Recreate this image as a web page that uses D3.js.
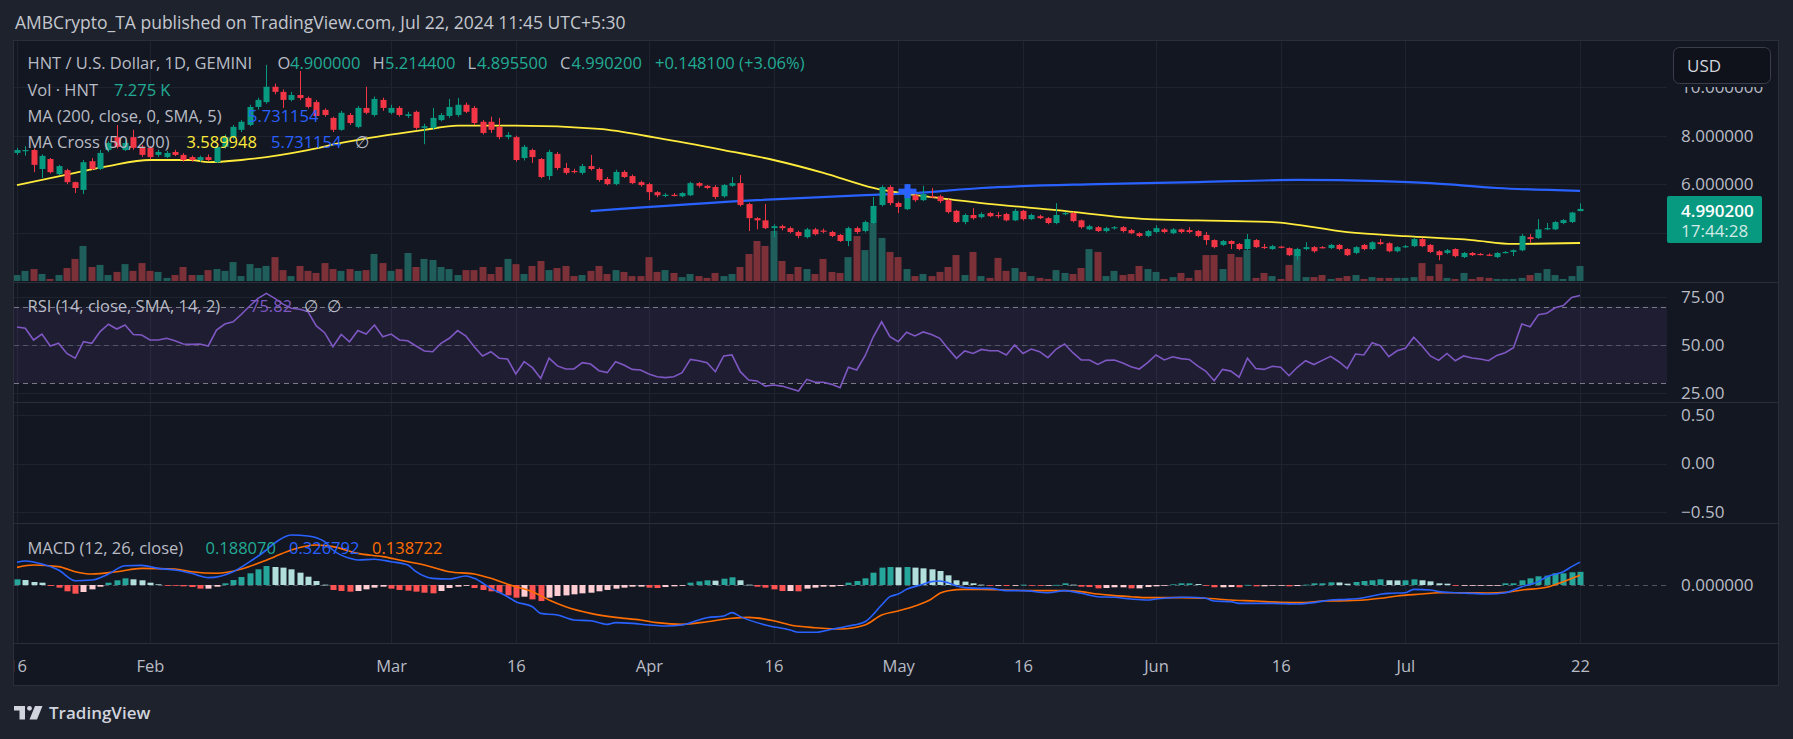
<!DOCTYPE html>
<html><head><meta charset="utf-8">
<script src="https://cdn.jsdelivr.net/npm/d3@7/dist/d3.min.js"></script>
<style>
html,body{margin:0;padding:0;background:#1e222d;overflow:hidden}
svg{display:block}
text{font-family:"Open Sans","Noto Sans","DejaVu Sans",sans-serif}
</style></head><body>
<svg id="chart" width="1793" height="739"></svg>
<script>
// ---------------- DATA (daily, first bar = 2024-01-16) ----------------
const opens = [
7.29,7.37,7.41,6.63,7.04,6.42,6.58,6.09,5.77,6.95,6.63,7.41,7.94,7.41,7.94,7.54,
7.50,7.21,7.12,7.33,7.21,7.12,7.00,7.12,6.91,7.54,7.94,8.24,8.44,9.18,9.38,10.01,9.80,9.47,9.67,9.55,9.38,9.06,8.73,8.24,8.85,8.36,9.14,8.85,9.47,
8.94,9.14,8.81,8.98,8.32,8.32,8.64,8.81,8.85,9.27,9.14,8.57,8.57,8.36,7.94,7.94,7.08,7.41,7.04,6.34,7.25,6.67,6.55,6.47,6.75,6.63,6.22,6.01,6.51,6.34,6.09,
6.01,5.68,5.55,5.57,5.51,5.55,6.05,5.94,5.89,5.51,5.94,6.05,5.19,4.61,4.52,4.20,4.28,4.20,4.04,3.83,4.15,4.10,4.04,3.92,3.67,4.20,4.08,4.41,5.15,5.89,
5.23,4.98,5.55,5.35,5.51,5.51,5.35,4.91,4.45,4.74,4.65,4.82,4.74,4.78,4.52,4.91,4.57,4.69,4.61,4.41,4.78,4.82,4.52,4.15,4.24,4.08,4.20,4.24,4.12,3.99,3.88,
4.04,4.15,3.99,4.15,4.12,4.08,3.92,3.71,3.51,3.67,3.55,3.34,3.71,3.43,3.34,3.44,3.38,3.05,3.34,3.42,3.42,3.38,3.51,3.34,3.18,3.51,3.34,3.62,3.58,3.25,
3.42,3.46,3.75,3.51,3.25,3.18,3.34,3.01,3.18,3.14,3.11,3.01,3.20,3.22,3.29,3.83,3.79,4.15,4.15,4.41,4.45,4.90];
const highs = [
7.50,7.57,7.47,7.23,7.08,6.80,6.64,6.11,7.00,7.08,7.41,7.76,8.44,7.81,8.24,7.62,
7.57,7.42,7.37,7.42,7.28,7.18,7.18,7.23,7.62,8.05,8.44,8.64,9.27,9.56,10.91,10.14,9.90,9.80,10.66,9.61,9.46,9.12,8.78,9.02,8.93,9.22,10.01,9.61,9.56,
9.27,9.22,8.98,9.03,8.49,9.14,8.93,9.51,9.55,9.36,9.22,8.64,8.78,8.73,8.15,8.00,7.62,7.47,7.08,7.42,7.33,6.88,6.64,6.84,7.21,6.69,6.30,6.60,6.58,6.40,6.15,
6.06,5.72,5.64,5.64,5.68,6.11,6.09,5.97,5.97,6.01,6.30,6.38,5.24,4.65,5.19,4.36,4.34,4.26,4.09,4.21,4.21,4.18,4.09,3.96,4.26,4.26,4.51,5.48,5.96,5.96,
5.29,6.01,5.62,5.94,5.85,5.57,5.41,4.95,4.80,5.02,4.85,4.87,4.86,4.83,4.99,4.95,4.80,4.75,4.65,5.23,4.87,4.87,4.55,4.34,4.28,4.26,4.28,4.28,4.17,4.03,4.13,
4.32,4.20,4.20,4.18,4.24,4.12,4.04,3.74,3.71,3.70,3.59,3.96,3.75,3.55,3.51,3.47,3.41,3.39,3.62,3.46,3.46,3.55,3.55,3.37,3.46,3.55,3.66,3.75,3.62,3.46,
3.51,3.80,3.80,3.55,3.29,3.34,3.37,3.22,3.22,3.18,3.16,3.22,3.26,3.33,3.96,3.96,4.57,4.41,4.49,4.57,4.87,5.2144];
const lows = [
7.21,7.18,6.50,6.26,6.45,6.38,6.01,5.64,5.60,6.59,6.59,7.32,7.47,7.37,7.42,7.13,
7.03,7.13,7.08,7.16,6.93,6.93,6.93,6.95,6.88,7.47,7.85,8.15,8.39,9.07,9.31,9.70,9.14,9.41,9.46,9.12,8.73,8.78,8.15,8.20,8.44,8.30,8.88,8.78,9.02,
8.88,8.78,8.73,8.25,7.65,8.25,8.59,8.73,8.78,8.93,8.44,8.05,8.11,7.85,7.85,6.93,6.98,6.88,6.25,6.18,6.59,6.40,6.45,6.40,6.57,6.11,5.96,5.96,6.26,6.01,5.91,
5.35,5.47,5.47,5.50,5.47,5.52,5.87,5.80,5.39,5.45,5.90,5.09,4.08,4.15,4.16,3.82,4.11,3.99,3.78,3.78,3.90,3.99,3.83,3.63,3.46,3.97,4.02,4.36,5.09,5.14,
4.82,4.94,5.28,5.31,5.43,5.23,4.80,4.41,4.36,4.55,4.60,4.65,4.61,4.48,4.49,4.51,4.53,4.57,4.36,4.36,4.73,4.44,4.18,4.12,4.04,4.02,4.14,4.02,3.95,3.83,3.83,
3.99,3.99,3.95,3.99,3.99,3.83,3.51,3.37,3.47,3.34,3.29,3.29,3.39,3.34,3.31,3.37,3.05,2.88,3.29,3.19,3.36,3.34,3.29,3.05,3.13,3.29,3.29,3.51,3.21,3.21,
3.39,3.42,3.42,3.18,2.88,3.13,3.00,2.97,3.05,3.08,3.05,2.97,3.16,3.05,3.25,3.58,3.75,4.12,4.12,4.36,4.41,4.8955];
const closes = [
7.41,7.41,6.80,7.17,6.50,6.75,6.09,5.85,6.91,6.63,7.29,7.70,7.54,7.70,7.50,7.21,
7.12,7.33,7.29,7.21,7.00,7.00,7.12,7.00,7.54,7.94,8.36,8.57,9.18,9.47,10.01,9.80,9.47,9.67,9.55,9.18,8.81,8.85,8.24,8.94,8.52,9.14,8.94,9.51,9.14,
9.14,8.85,8.88,8.32,8.39,8.73,8.85,9.18,9.27,8.98,8.52,8.11,8.24,7.94,8.03,7.00,7.54,7.12,6.30,7.33,6.67,6.47,6.53,6.75,6.63,6.18,6.01,6.51,6.30,6.05,5.97,
5.68,5.55,5.57,5.55,5.64,6.05,5.94,5.85,5.48,5.97,6.05,5.15,4.61,4.52,4.20,4.28,4.20,4.04,3.88,4.15,3.95,4.08,3.88,3.67,4.20,4.04,4.45,5.11,5.89,5.23,
5.07,5.72,5.35,5.60,5.48,5.31,4.86,4.45,4.74,4.61,4.78,4.69,4.72,4.52,4.91,4.57,4.74,4.61,4.41,4.74,4.82,4.49,4.24,4.28,4.08,4.20,4.24,4.08,3.99,3.88,4.08,
4.20,4.04,4.15,4.04,4.04,3.88,3.71,3.42,3.67,3.55,3.34,3.75,3.42,3.41,3.46,3.41,3.09,3.34,3.42,3.25,3.40,3.51,3.34,3.09,3.42,3.34,3.62,3.55,3.25,3.42,
3.46,3.75,3.46,3.22,3.09,3.29,3.05,3.18,3.09,3.12,3.09,3.18,3.22,3.29,3.88,3.75,4.15,4.20,4.45,4.53,4.8421,4.9902];
// volume in thousands of HNT
const volumes = [
2.9,4.9,5.8,3.4,1.0,2.9,6.3,10.7,17.0,6.8,7.8,2.9,4.4,8.2,4.9,8.7,
4.9,4.4,1.5,2.9,6.8,2.9,2.9,5.3,5.8,4.9,9.2,2.4,8.2,6.3,7.3,11.6,5.3,2.4,7.3,4.9,3.9,8.7,5.8,4.9,5.8,4.9,5.3,13.1,8.7,
4.9,5.8,13.6,6.8,10.7,10.2,6.8,5.8,2.9,5.3,5.3,6.8,3.4,6.8,10.7,8.2,3.4,7.3,9.7,5.3,6.3,7.3,2.4,2.9,4.9,7.3,3.4,5.3,4.4,2.4,2.4,
11.6,4.4,5.3,3.9,1.9,3.4,2.4,1.5,3.9,2.4,3.4,6.8,13.1,19.4,17.0,24.3,9.7,3.4,6.8,5.8,3.4,10.7,4.4,3.9,11.6,21.8,15.0,28.1,20.9,14.1,
11.6,5.8,2.4,3.4,2.4,4.4,6.8,12.6,2.9,14.1,2.4,1.5,11.2,4.9,6.3,4.4,2.4,1.5,1.0,5.3,3.9,3.4,6.3,15.5,14.1,2.4,4.9,2.9,3.4,7.3,5.8,
4.4,1.0,1.9,3.9,1.5,5.3,12.6,12.6,5.8,13.1,11.6,15.0,1.5,3.9,2.4,1.0,7.8,15.5,1.9,1.9,2.9,1.0,1.5,2.4,2.9,1.0,1.9,1.5,1.5,1.5,
1.5,1.9,8.7,2.4,8.2,1.5,1.0,3.9,1.0,1.9,1.5,1.0,1.0,1.0,1.5,2.9,3.9,5.8,2.9,1.0,2.4,7.275];
const rsiValues = [
59.4,58.7,52.6,55.7,49.5,50.9,45.6,43.1,51.7,50.9,57.0,60.8,58.3,60.4,55.5,55.2,
52.6,52.6,53.5,52.2,50.5,50.3,50.5,49.5,57.8,60.9,62.1,66.0,70.3,74.3,76.9,74.3,71.3,69.1,68.6,67.4,59.9,56.4,49.1,55.5,51.7,57.5,55.7,60.4,54.3,
55.7,52.6,52.2,49.5,46.9,46.5,50.9,53.5,57.5,54.7,49.1,44.3,46.5,43.1,42.7,34.9,41.3,38.2,32.6,43.2,39.1,37.5,37.5,40.8,40.1,36.6,35.6,41.3,39.6,37.3,37.0,
34.9,33.5,33.0,33.5,35.6,42.5,41.8,40.8,36.1,44.3,44.8,36.1,31.8,31.3,28.6,29.2,28.6,27.4,26.0,32.1,30.6,30.6,29.5,27.8,38.4,37.0,44.3,54.3,62.1,54.3,
51.7,56.6,54.7,56.8,55.5,53.5,48.1,43.1,46.9,45.6,47.7,47.0,47.0,44.8,50.0,45.6,47.9,46.5,43.4,47.9,50.5,46.0,42.2,42.2,39.9,42.0,42.2,40.6,38.7,37.5,40.8,
44.8,42.2,43.9,42.9,42.5,39.1,36.3,31.4,37.3,36.4,33.2,43.1,37.8,37.3,38.9,38.4,34.0,38.4,41.8,39.8,42.0,44.1,41.3,37.7,45.3,44.8,51.2,49.6,43.9,47.0,
48.3,54.0,49.5,44.3,42.0,45.6,41.8,44.3,43.2,42.7,41.8,44.6,46.0,48.6,60.9,59.5,65.8,66.5,69.4,70.5,74.8,75.82];
const macdHist = [
0.081,0.071,0.043,0.033,-0.014,-0.038,-0.090,-0.124,-0.100,-0.062,-0.024,0.033,0.067,0.095,0.081,0.067,
0.033,0.010,-0.005,-0.010,-0.019,-0.029,-0.052,-0.052,-0.024,0.024,0.071,0.114,0.167,0.224,0.271,0.257,0.248,0.224,0.176,0.119,0.057,0.005,-0.071,-0.086,-0.095,-0.086,-0.062,-0.038,-0.024,
-0.052,-0.071,-0.081,-0.095,-0.110,-0.119,-0.086,-0.043,-0.024,-0.005,-0.043,-0.071,-0.090,-0.110,-0.148,-0.181,-0.167,-0.205,-0.229,-0.181,-0.157,-0.148,-0.133,-0.119,-0.110,-0.090,-0.071,-0.052,-0.038,-0.024,-0.024,
-0.038,-0.043,-0.029,-0.019,-0.005,0.033,0.052,0.067,0.062,0.090,0.110,0.067,0.005,-0.024,-0.038,-0.062,-0.086,-0.086,-0.090,-0.052,-0.038,-0.024,-0.024,-0.014,0.033,0.057,0.095,0.176,0.248,0.257,
0.252,0.257,0.248,0.238,0.224,0.200,0.138,0.067,0.048,0.024,0.005,-0.005,-0.005,-0.014,-0.005,0.005,-0.005,-0.010,-0.003,0.002,0.024,0.005,-0.024,-0.029,-0.048,-0.043,-0.033,-0.033,-0.048,-0.048,-0.029,
-0.019,-0.002,0.010,0.024,0.024,0.014,-0.005,-0.033,-0.033,-0.029,-0.033,0.002,-0.019,-0.019,-0.010,-0.005,-0.019,-0.015,0.005,0.024,0.024,0.038,0.036,0.019,0.043,0.057,0.067,0.081,0.067,0.065,
0.067,0.081,0.067,0.052,0.024,0.019,-0.005,-0.005,-0.005,-0.004,-0.002,-0.001,0.024,0.024,0.067,0.095,0.124,0.133,0.167,0.167,0.181,0.188070];
// [day index, value] samples
const macdLine = [[0,0.324],[1,0.343],[3,0.300],[5,0.214],[7,0.061],[9,0.071],[11,0.157],[13,0.276],[15,0.281],[17,0.238],[19,0.214],[21,0.167],[23,0.105],[26,0.190],[28,0.333],[30,0.500],[31,0.600],[33,0.714],[35,0.700],[37,0.619],[38,0.500],[40,0.381],[41,0.357],[43,0.367],[45,0.333],[47,0.286],[48,0.190],[50,0.095],[52,0.086],[54,0.129],[55,0.095],[57,-0.048],[59,-0.167],[60,-0.238],[62,-0.310],[63,-0.405],[65,-0.429],[67,-0.500],[69,-0.510],[71,-0.562],[72,-0.538],[74,-0.548],[76,-0.571],[78,-0.586],[80,-0.571],[82,-0.500],[83,-0.467],[85,-0.443],[86,-0.395],[87,-0.452],[90,-0.571],[93,-0.643],[94,-0.676],[96,-0.676],[98,-0.633],[100,-0.586],[102,-0.524],[104,-0.286],[105,-0.167],[106,-0.130],[107,-0.062],[109,0.010],[110,0.048],[111,0.057],[112,0.033],[113,-0.014],[114,-0.038],[116,-0.048],[117,-0.048],[119,-0.081],[121,-0.081],[124,-0.110],[126,-0.081],[128,-0.119],[130,-0.167],[132,-0.176],[134,-0.200],[136,-0.214],[137,-0.200],[140,-0.176],[141,-0.176],[143,-0.190],[144,-0.229],[146,-0.238],[147,-0.262],[149,-0.262],[151,-0.262],[154,-0.271],[156,-0.252],[158,-0.214],[160,-0.205],[162,-0.181],[164,-0.133],[165,-0.119],[167,-0.110],[168,-0.062],[170,-0.071],[171,-0.095],[173,-0.110],[175,-0.119],[177,-0.129],[179,-0.110],[181,-0.024],[183,0.048],[184,0.119],[186,0.190],[187,0.262],[188,0.326792]];
const signalLine = [[0,0.252],[2,0.286],[5,0.262],[7,0.190],[9,0.157],[12,0.190],[15,0.238],[19,0.229],[21,0.190],[24,0.167],[27,0.229],[29,0.310],[31,0.405],[33,0.500],[36,0.571],[38,0.548],[41,0.452],[44,0.405],[46,0.357],[49,0.286],[52,0.190],[55,0.157],[57,0.095],[59,0.010],[62,-0.095],[64,-0.214],[66,-0.310],[69,-0.405],[72,-0.462],[75,-0.500],[77,-0.538],[80,-0.562],[83,-0.524],[86,-0.476],[88,-0.462],[91,-0.510],[93,-0.571],[96,-0.610],[99,-0.629],[102,-0.571],[104,-0.429],[106,-0.370],[108,-0.300],[110,-0.200],[111,-0.119],[112,-0.081],[114,-0.062],[116,-0.062],[119,-0.071],[122,-0.081],[126,-0.081],[128,-0.095],[130,-0.129],[132,-0.152],[134,-0.167],[136,-0.181],[140,-0.181],[143,-0.190],[146,-0.214],[149,-0.229],[152,-0.248],[155,-0.252],[157,-0.229],[160,-0.224],[162,-0.214],[164,-0.190],[166,-0.157],[169,-0.129],[171,-0.110],[174,-0.110],[177,-0.114],[179,-0.105],[181,-0.071],[184,-0.033],[186,0.048],[188,0.138722]];
const ma50Line = [[0,5.97],[7,6.47],[11,6.75],[16,7.00],[21,7.00],[23,6.91],[27,7.00],[35,7.41],[39,7.70],[49,8.24],[53,8.41],[60,8.41],[70,8.28],[77,7.91],[85,7.41],[91,7.00],[97,6.47],[103,5.85],[112,5.39],[116,5.23],[125,4.94],[136,4.57],[142,4.52],[151,4.45],[160,4.04],[167,3.87],[175,3.71],[180,3.55],[188,3.589948]];
const ma200Line = [[69,4.90],[89,5.35],[102,5.56],[108,5.64],[116,5.85],[130,6.01],[142,6.09],[154,6.18],[164,6.13],[170,6.05],[178,5.85],[188,5.731154]];
const maCrossPoints = [[107,5.72]];
const tickDates = ["2024-01-16","2024-02-01","2024-03-01","2024-03-16","2024-04-01","2024-04-16","2024-05-01","2024-05-16","2024-06-01","2024-06-16","2024-07-01","2024-07-22"];
const tickLabels = ["16","Feb","Mar","16","Apr","16","May","16","Jun","16","Jul","22"];
const priceGrid = [10,8,6,4];
const priceLabels = [10,8,6];   // the 4.000000 label sits under the last-price tag
const rsiTicks = [75,50,25];
const emptyTicks = [0.5,0,-0.5];
const macdTicks = [0];

// ---------------- LAYOUT ----------------
const W=1793,H=739, PL=14, PX=1667, RB=1778, TOP=41, BOT=685;
const MAIN=[41,282], RSIP=[282,402], EMP=[402,523], MAC=[523,643];
const startUTC = Date.UTC(2024,0,16);
const dayDate = i => new Date(startUTC + i*864e5);
const svg = d3.select("#chart");
const GRID="#1f2330", SEP="#2a2e39", TXT="#b9bcc5", PANE="#131722";

svg.append("rect").attr("width",W).attr("height",H).attr("fill","#1e222d");
svg.append("rect").attr("x",PL).attr("y",TOP).attr("width",RB-PL).attr("height",BOT-TOP).attr("fill",PANE);

const x = d3.scaleUtc().domain([new Date(Date.UTC(2024,1,1)),new Date(Date.UTC(2024,6,22))]).range([150,1580]);
const yP = d3.scaleLinear().domain([4,10]).range([233,87]);
const yV = d3.scaleLinear().domain([0,29.1]).range([281,221]);
const yR = d3.scaleLinear().domain([25,75]).range([393,297]);
const yE = d3.scaleLinear().domain([-0.5,0.5]).range([512,415]);
const yM = d3.scaleLinear().domain([-0.8,0.8]).range([641,529]);

const defs = svg.append("defs");
defs.append("clipPath").attr("id","plot").append("rect").attr("x",PL).attr("y",TOP).attr("width",PX-PL).attr("height",MAC[1]-TOP);
defs.append("clipPath").attr("id","xax").append("rect").attr("x",PL).attr("y",MAC[1]).attr("width",RB-PL).attr("height",BOT-MAC[1]);

// grid
const grid = svg.append("g");
const tDates = tickDates.map(s=>new Date(s+"T00:00:00Z"));
grid.selectAll(".vg").data(tDates).join("line").attr("x1",d=>Math.round(x(d))+0.5).attr("x2",d=>Math.round(x(d))+0.5)
  .attr("y1",TOP).attr("y2",MAC[1]).attr("stroke",GRID);
const hg = (vals,sc)=>grid.selectAll(null).data(vals).join("line").attr("x1",PL).attr("x2",PX)
  .attr("y1",d=>Math.round(sc(d))+0.5).attr("y2",d=>Math.round(sc(d))+0.5).attr("stroke",GRID);
hg(priceGrid,yP); hg(rsiTicks,yR); hg(emptyTicks,yE);

// RSI band
svg.append("rect").attr("x",PL).attr("width",PX-PL).attr("y",yR(70)).attr("height",yR(30)-yR(70)).attr("fill","rgba(126,87,194,0.1)");
[[70,"#787b86"],[50,"rgba(120,123,134,0.55)"],[30,"#787b86"]].forEach(([v,c])=>{
  svg.append("line").attr("x1",PL).attr("x2",PX).attr("y1",Math.round(yR(v))+0.5).attr("y2",Math.round(yR(v))+0.5)
   .attr("stroke",c).attr("stroke-dasharray","5,4");
});
// MACD zero line
svg.append("line").attr("x1",PL).attr("x2",PX).attr("y1",Math.round(yM(0))+0.5).attr("y2",Math.round(yM(0))+0.5)
  .attr("stroke","rgba(120,123,134,0.6)").attr("stroke-dasharray","5,4");

const plot = svg.append("g").attr("clip-path","url(#plot)");
const n = closes.length;
const idx = d3.range(n);
const up = i => closes[i] >= opens[i];

// volume
plot.append("g").selectAll("rect").data(idx).join("rect")
  .attr("x",i=>Math.round(x(dayDate(i)))-3.5).attr("width",7)
  .attr("y",i=>yV(volumes[i])).attr("height",i=>yV(0)-yV(volumes[i]))
  .attr("fill",i=>up(i)?"#1f5e5a":"#7c3038");

// moving averages
const lineP = d3.line().x(d=>x(dayDate(d[0]))).y(d=>yP(d[1])).curve(d3.curveMonotoneX);
plot.append("path").attr("d",lineP(ma50Line)).attr("fill","none").attr("stroke","#ffeb3b").attr("stroke-width",1.8);
plot.append("path").attr("d",lineP(ma200Line)).attr("fill","none").attr("stroke","#2962ff").attr("stroke-width",2.2);

// candles
const cg = plot.append("g").selectAll("g").data(idx).join("g");
cg.append("line").attr("x1",i=>Math.round(x(dayDate(i)))+0.5).attr("x2",i=>Math.round(x(dayDate(i)))+0.5)
  .attr("y1",i=>yP(highs[i])).attr("y2",i=>yP(lows[i])).attr("stroke",i=>up(i)?"#089981":"#f23645");
cg.append("rect").attr("x",i=>Math.round(x(dayDate(i)))-2.5).attr("width",6)
  .attr("y",i=>yP(Math.max(opens[i],closes[i])))
  .attr("height",i=>Math.max(1.2,Math.abs(yP(opens[i])-yP(closes[i]))))
  .attr("fill",i=>up(i)?"#089981":"#f23645");

// MA cross marker
maCrossPoints.forEach(([d,v])=>{
  const cx=Math.round(x(dayDate(d)))+0.5, cy=yP(v);
  plot.append("rect").attr("x",cx-9).attr("y",cy-2.5).attr("width",18).attr("height",5).attr("fill","#2962ff");
  plot.append("rect").attr("x",cx-3).attr("y",cy-7).attr("width",6).attr("height",14).attr("fill","#2962ff");
});

// RSI
plot.append("path").attr("d",d3.line().x((d,i)=>x(dayDate(i))).y(d=>yR(d))(rsiValues))
  .attr("fill","none").attr("stroke","#7e57c2").attr("stroke-width",1.6);

// MACD histogram
plot.append("g").selectAll("rect").data(idx).join("rect")
  .attr("x",i=>Math.round(x(dayDate(i)))-2.5).attr("width",6)
  .attr("y",i=>Math.min(yM(0),yM(macdHist[i])))
  .attr("height",i=>Math.max(0.8,Math.abs(yM(macdHist[i])-yM(0))))
  .attr("fill",i=>{const v=macdHist[i], p=i>0?macdHist[i-1]:v;
     return v>=0 ? (v>=p?"#26a69a":"#b2dfdb") : (v<p?"#ff5252":"#ffcdd2");});
const lineM = d3.line().x(d=>x(dayDate(d[0]))).y(d=>yM(d[1])).curve(d3.curveMonotoneX);
plot.append("path").attr("d",lineM(signalLine)).attr("fill","none").attr("stroke","#ff6d00").attr("stroke-width",1.6);
plot.append("path").attr("d",lineM(macdLine)).attr("fill","none").attr("stroke","#2962ff").attr("stroke-width",1.6);

// separators & border
[MAIN[1],RSIP[1],EMP[1],MAC[1]].forEach(y=>svg.append("line").attr("x1",PL).attr("x2",RB).attr("y1",y+0.5).attr("y2",y+0.5).attr("stroke",SEP));
svg.append("rect").attr("x",PL-0.5).attr("y",TOP-0.5).attr("width",RB-PL+1).attr("height",BOT-TOP+1).attr("fill","none").attr("stroke",SEP);

// x axis
const xa = svg.append("g").attr("clip-path","url(#xax)").append("g").attr("transform",`translate(0,${MAC[1]})`)
  .call(d3.axisBottom(x).tickValues(tDates).tickFormat((d,i)=>tickLabels[i]).tickSize(0));
xa.select(".domain").remove();
xa.selectAll("text").attr("y",29).attr("dy",0).attr("fill",TXT).style("font-size","16.5px").style("font-family",'"Open Sans",sans-serif');

// right axes
function rAxis(sc,vals,fmt){
  const g = svg.append("g").attr("transform","translate(1681,0)")
    .call(d3.axisRight(sc).tickValues(vals).tickFormat(fmt).tickSize(0).tickPadding(0));
  g.select(".domain").remove();
  g.selectAll("text").attr("fill",TXT).style("font-size","17px").style("font-family",'"Open Sans",sans-serif');
}
rAxis(yP,priceLabels,d3.format(".6f"));
rAxis(yR,rsiTicks,d3.format(".2f"));
rAxis(yE,emptyTicks,d3.format(".2f"));
rAxis(yM,macdTicks,d3.format(".6f"));

// last price tag
const last = n-1;
const tagG = svg.append("g");
tagG.append("rect").attr("x",1667).attr("y",196).attr("width",95).attr("height",47).attr("rx",2).attr("fill","#089981");
tagG.append("text").attr("x",1681).attr("y",216.5).attr("fill","#ffffff").style("font-size","17px").style("font-weight","600").text(d3.format(".6f")(closes[last]));
tagG.append("text").attr("x",1681).attr("y",237).attr("fill","rgba(255,255,255,0.82)").style("font-size","17px").text("17:44:28");

// USD button (its backing strip covers the top of the 10.000000 label)
svg.append("rect").attr("x",1668).attr("y",TOP).attr("width",RB-1668).attr("height",46).attr("fill",PANE);
svg.append("rect").attr("x",1673.5).attr("y",47.5).attr("width",97).attr("height",36).attr("rx",6).attr("fill","#0f121a").attr("stroke","#3a3e4a");
svg.append("text").attr("x",1687).attr("y",72).attr("fill","#d1d4dc").style("font-size","17px").text("USD");

// header
svg.append("text").attr("x",15).attr("y",29).attr("fill","#c4c7ce").style("font-size","17.5px")
  .text("AMBCrypto_TA published on TradingView.com, Jul 22, 2024 11:45 UTC+5:30");

// legends
const GREEN="#22ab94", BLUE="#2962ff", YEL="#ffeb3b", PUR="#7e57c2", ORA="#ff6d00";
function legend(y, parts){
  parts.forEach(([t,xx,c])=>svg.append("text").attr("x",xx).attr("y",y).attr("dy","0.35em").attr("fill",c)
    .style("font-size","16.5px").text(t));
}
const f6 = d3.format(".6f");
const chg = closes[last]-closes[last-1];
legend(63,[["HNT / U.S. Dollar, 1D, GEMINI",27.5,TXT],["O",277.5,TXT],[f6(opens[last]),290,GREEN],["H",372.5,TXT],[f6(highs[last]),385,GREEN],
  ["L",467.5,TXT],[f6(lows[last]),477,GREEN],["C",560,TXT],[f6(closes[last]),571.5,GREEN],
  [(chg>=0?"+":"")+f6(chg)+" ("+(chg>=0?"+":"")+d3.format(".2f")(chg/closes[last-1]*100)+"%)",655,GREEN]]);
legend(90,[["Vol · HNT",27.5,TXT],[d3.format(".3f")(volumes[last])+" K",114,GREEN]]);
legend(116,[["MA (200, close, 0, SMA, 5)",27.5,TXT],[f6(ma200Line[ma200Line.length-1][1]),248,BLUE]]);
legend(142,[["MA Cross (50, 200)",27.5,TXT],[f6(ma50Line[ma50Line.length-1][1]),186.5,YEL],[f6(ma200Line[ma200Line.length-1][1]),271,BLUE],["∅",355,TXT]]);
legend(306,[["RSI (14, close, SMA, 14, 2)",27.5,TXT],[d3.format(".2f")(rsiValues[last]),250,PUR],["∅",304,TXT],["∅",327,TXT]]);
legend(548,[["MACD (12, 26, close)",27.5,TXT],[f6(macdHist[last]),205.5,GREEN],[f6(macdLine[macdLine.length-1][1]),289,BLUE],[f6(signalLine[signalLine.length-1][1]),372,ORA]]);

// TradingView logo
const lg = svg.append("g").attr("fill","#d1d4dc");
lg.append("rect").attr("x",14).attr("y",706).attr("width",11).attr("height",4.5);
lg.append("rect").attr("x",19.5).attr("y",706).attr("width",5.5).attr("height",13.5);
lg.append("circle").attr("cx",29.5).attr("cy",708.3).attr("r",2.4);
lg.append("path").attr("d","M35 706 L42.5 706 L37 719.5 L29.5 719.5 Z");
svg.append("text").attr("x",49).attr("y",719).attr("fill","#d1d4dc").style("font-size","17px").style("font-weight","600").text("TradingView");
</script>
</body></html>
